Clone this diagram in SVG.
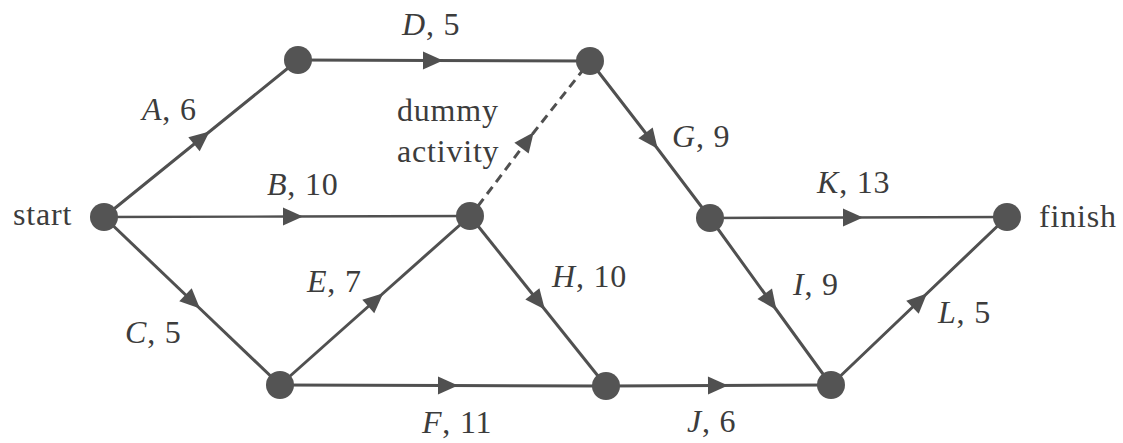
<svg xmlns="http://www.w3.org/2000/svg" width="1123" height="443" viewBox="0 0 1123 443">
<style>
.e{fill:none;stroke:#505050;stroke-width:3;marker-mid:url(#ah)}
.thin{stroke-width:2.4}
.dash{stroke-dasharray:9 6}
.n{fill:#545454}
text{font-family:"Liberation Serif","Times New Roman",serif;font-size:32px;fill:#3c3c3c;letter-spacing:0.8px}
.i{font-style:italic}
</style>
<defs>
<marker id="ah" markerUnits="userSpaceOnUse" markerWidth="22" markerHeight="20" refX="9" refY="9" orient="auto" overflow="visible">
<path d="M0,0 L20,9 L0,18 Z" fill="#505050"/>
</marker>
</defs>
<rect width="1123" height="443" fill="#fff"/>
<g id="connectors">
<path id="A" class="e" d="M104,217 L201,138.5 L298,60"/>
<path id="B" class="e thin" d="M104,217 L292,216.5 L470,216"/>
<path id="C" class="e" d="M104,217 L192,301 L280,385"/>
<path id="D" class="e" d="M298,60 L432,60.5 L590,61"/>
<path id="dummy" class="e dash" d="M478,206 L527,141 L583,70"/>
<path id="E" class="e" d="M280,385 L375,300.5 L470,216"/>
<path id="F" class="e" d="M280,385 L447,385.5 L606,386"/>
<path id="G" class="e" d="M590,61 L651,140 L710,218"/>
<path id="H" class="e" d="M470,216 L538,301 L606,386"/>
<path id="J" class="e" d="M606,386 L717,385.5 L831,385"/>
<path id="K" class="e thin" d="M710,218 L852,217.5 L1007,217"/>
<path id="I" class="e" d="M710,218 L770,301 L831,385"/>
<path id="L" class="e" d="M831,385 L919,301 L1007,217"/>
</g>
<g id="start"><circle class="n" cx="104" cy="217" r="14"/><text x="13" y="225">start</text></g>
<g id="n1"><circle class="n" cx="298" cy="60" r="14"/></g>
<g id="n2"><circle class="n" cx="590" cy="61" r="14"/></g>
<g id="n3"><circle class="n" cx="470" cy="216" r="14"/></g>
<g id="n4"><circle class="n" cx="280" cy="385" r="14"/></g>
<g id="n5"><circle class="n" cx="710" cy="218" r="14"/></g>
<g id="n6"><circle class="n" cx="606" cy="386" r="14"/></g>
<g id="n7"><circle class="n" cx="831" cy="385" r="14"/></g>
<g id="finish"><circle class="n" cx="1007" cy="217" r="14"/><text x="1039" y="227">finish</text></g>
<g id="labels">
<text x="142" y="120"><tspan class="i">A</tspan>, 6</text>
<text x="267" y="195"><tspan class="i">B</tspan>, 10</text>
<text x="125" y="343"><tspan class="i">C</tspan>, 5</text>
<text x="402" y="35"><tspan class="i">D</tspan>, 5</text>
<text x="397" y="121">dummy</text>
<text x="397" y="162">activity</text>
<text x="307" y="292"><tspan class="i">E</tspan>, 7</text>
<text x="422" y="433"><tspan class="i">F</tspan>, 11</text>
<text x="672" y="147"><tspan class="i">G</tspan>, 9</text>
<text x="552" y="287"><tspan class="i">H</tspan>, 10</text>
<text x="793" y="295"><tspan class="i">I</tspan>, 9</text>
<text x="687" y="432"><tspan class="i">J</tspan>, 6</text>
<text x="817" y="193"><tspan class="i">K</tspan>, 13</text>
<text x="938" y="323"><tspan class="i">L</tspan>, 5</text>
</g>
</svg>
